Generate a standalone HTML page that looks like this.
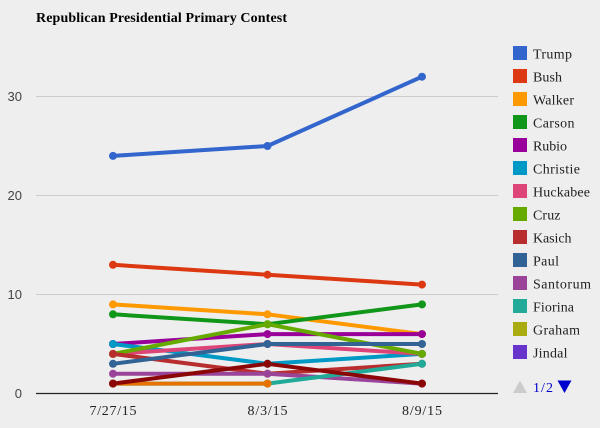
<!DOCTYPE html>
<html>
<head>
<meta charset="utf-8">
<style>
html,body{margin:0;padding:0;background:#eeeeee;}
svg{display:block;}
</style>
</head>
<body>
<svg width="600" height="428" viewBox="0 0 600 428" xmlns="http://www.w3.org/2000/svg">
<rect x="0" y="0" width="600" height="428" fill="#eeeeee"/>
<text x="36" y="22" font-family="Liberation Serif, serif" font-weight="bold" font-size="14" fill="#000" textLength="251">Republican Presidential Primary Contest</text>

<!-- gridlines -->
<g stroke="#cccccc" stroke-width="1">
<line x1="36" y1="96.5" x2="498" y2="96.5"/>
<line x1="36" y1="195.5" x2="498" y2="195.5"/>
<line x1="36" y1="294.5" x2="498" y2="294.5"/>
</g>
<line x1="36" y1="393.5" x2="498" y2="393.5" stroke="#222" stroke-width="1.2"/>

<!-- y labels -->
<g font-family="Liberation Sans, sans-serif" font-size="13" fill="#444" text-anchor="end">
<text x="22" y="101">30</text>
<text x="22" y="200">20</text>
<text x="22" y="299">10</text>
<text x="22" y="398">0</text>
</g>

<!-- x labels -->
<g font-family="Liberation Serif, serif" font-size="14" fill="#222" text-anchor="middle">
<text x="113" y="415" textLength="47">7/27/15</text>
<text x="267.5" y="415" textLength="40">8/3/15</text>
<text x="422" y="415" textLength="40">8/9/15</text>
</g>

<!-- series -->
<g fill="none" stroke-width="4" stroke-linejoin="round" stroke-linecap="round">
<polyline stroke="#3366cc" points="113,155.9 267.5,146 422,76.7"/>
<polyline stroke="#dc3912" points="113,264.8 267.5,274.7 422,284.6"/>
<polyline stroke="#ff9900" points="113,304.4 267.5,314.3 422,334.1"/>
<polyline stroke="#109618" points="113,314.3 267.5,324.2 422,304.4"/>
<polyline stroke="#990099" points="113,344 267.5,334.1 422,334.1"/>
<polyline stroke="#0099c6" points="113,344 267.5,363.8 422,353.9"/>
<polyline stroke="#dd4477" points="113,353.9 267.5,344 422,353.9"/>
<polyline stroke="#66aa00" points="113,353.9 267.5,324.2 422,353.9"/>
<polyline stroke="#b82e2e" points="113,353.9 267.5,373.7 422,363.8"/>
<polyline stroke="#316395" points="113,363.8 267.5,344 422,344"/>
<polyline stroke="#994499" points="113,373.7 267.5,373.7 422,383.6"/>
<polyline stroke="#22aa99" points="113,383.6 267.5,383.6 422,363.8"/>
<polyline stroke="#e67300" points="113,383.6 267.5,383.6"/>
<polyline stroke="#8b0707" points="113,383.6 267.5,363.8 422,383.6"/>
</g>
<g>
<g fill="#3366cc"><circle cx="113" cy="155.9" r="4"/><circle cx="267.5" cy="146" r="4"/><circle cx="422" cy="76.7" r="4"/></g>
<g fill="#dc3912"><circle cx="113" cy="264.8" r="4"/><circle cx="267.5" cy="274.7" r="4"/><circle cx="422" cy="284.6" r="4"/></g>
<g fill="#ff9900"><circle cx="113" cy="304.4" r="4"/><circle cx="267.5" cy="314.3" r="4"/><circle cx="422" cy="334.1" r="4"/></g>
<g fill="#109618"><circle cx="113" cy="314.3" r="4"/><circle cx="267.5" cy="324.2" r="4"/><circle cx="422" cy="304.4" r="4"/></g>
<g fill="#990099"><circle cx="113" cy="344" r="4"/><circle cx="267.5" cy="334.1" r="4"/><circle cx="422" cy="334.1" r="4"/></g>
<g fill="#0099c6"><circle cx="113" cy="344" r="4"/><circle cx="267.5" cy="363.8" r="4"/><circle cx="422" cy="353.9" r="4"/></g>
<g fill="#dd4477"><circle cx="113" cy="353.9" r="4"/><circle cx="267.5" cy="344" r="4"/><circle cx="422" cy="353.9" r="4"/></g>
<g fill="#66aa00"><circle cx="113" cy="353.9" r="4"/><circle cx="267.5" cy="324.2" r="4"/><circle cx="422" cy="353.9" r="4"/></g>
<g fill="#b82e2e"><circle cx="113" cy="353.9" r="4"/><circle cx="267.5" cy="373.7" r="4"/><circle cx="422" cy="363.8" r="4"/></g>
<g fill="#316395"><circle cx="113" cy="363.8" r="4"/><circle cx="267.5" cy="344" r="4"/><circle cx="422" cy="344" r="4"/></g>
<g fill="#994499"><circle cx="113" cy="373.7" r="4"/><circle cx="267.5" cy="373.7" r="4"/><circle cx="422" cy="383.6" r="4"/></g>
<g fill="#22aa99"><circle cx="113" cy="383.6" r="4"/><circle cx="267.5" cy="383.6" r="4"/><circle cx="422" cy="363.8" r="4"/></g>
<g fill="#e67300"><circle cx="113" cy="383.6" r="4"/><circle cx="267.5" cy="383.6" r="4"/></g>
<g fill="#8b0707"><circle cx="113" cy="383.6" r="4"/><circle cx="267.5" cy="363.8" r="4"/><circle cx="422" cy="383.6" r="4"/></g>
</g>

<!-- legend -->
<g>
<rect x="513" y="46" width="14" height="14" fill="#3366cc"/>
<rect x="513" y="69" width="14" height="14" fill="#dc3912"/>
<rect x="513" y="92" width="14" height="14" fill="#ff9900"/>
<rect x="513" y="115" width="14" height="14" fill="#109618"/>
<rect x="513" y="138" width="14" height="14" fill="#990099"/>
<rect x="513" y="161" width="14" height="14" fill="#0099c6"/>
<rect x="513" y="184" width="14" height="14" fill="#dd4477"/>
<rect x="513" y="207" width="14" height="14" fill="#66aa00"/>
<rect x="513" y="230" width="14" height="14" fill="#b82e2e"/>
<rect x="513" y="253" width="14" height="14" fill="#316395"/>
<rect x="513" y="276" width="14" height="14" fill="#994499"/>
<rect x="513" y="299" width="14" height="14" fill="#22aa99"/>
<rect x="513" y="322" width="14" height="14" fill="#aaaa11"/>
<rect x="513" y="345" width="14" height="14" fill="#6633cc"/>
</g>
<g font-family="Liberation Serif, serif" font-size="14" fill="#222">
<text x="533" y="58.5" textLength="39">Trump</text>
<text x="533" y="81.5" textLength="29">Bush</text>
<text x="533" y="104.5" textLength="41">Walker</text>
<text x="533" y="127.5" textLength="41.5">Carson</text>
<text x="533" y="150.5" textLength="34">Rubio</text>
<text x="533" y="173.5" textLength="47">Christie</text>
<text x="533" y="196.5" textLength="57">Huckabee</text>
<text x="533" y="219.5" textLength="27.5">Cruz</text>
<text x="533" y="242.5" textLength="38.5">Kasich</text>
<text x="533" y="265.5" textLength="26">Paul</text>
<text x="533" y="288.5" textLength="58">Santorum</text>
<text x="533" y="311.5" textLength="41">Fiorina</text>
<text x="533" y="334.5" textLength="47">Graham</text>
<text x="533" y="357.5" textLength="34.5">Jindal</text>
</g>

<!-- pager -->
<polygon points="513,393 527,393 520,380.5" fill="#cccccc"/>
<text x="533" y="392" font-family="Liberation Serif, serif" font-size="14" fill="#0000cc" textLength="20">1/2</text>
<polygon points="557.5,380.5 571.5,380.5 564.5,393" fill="#0000cc"/>
</svg>
</body>
</html>
